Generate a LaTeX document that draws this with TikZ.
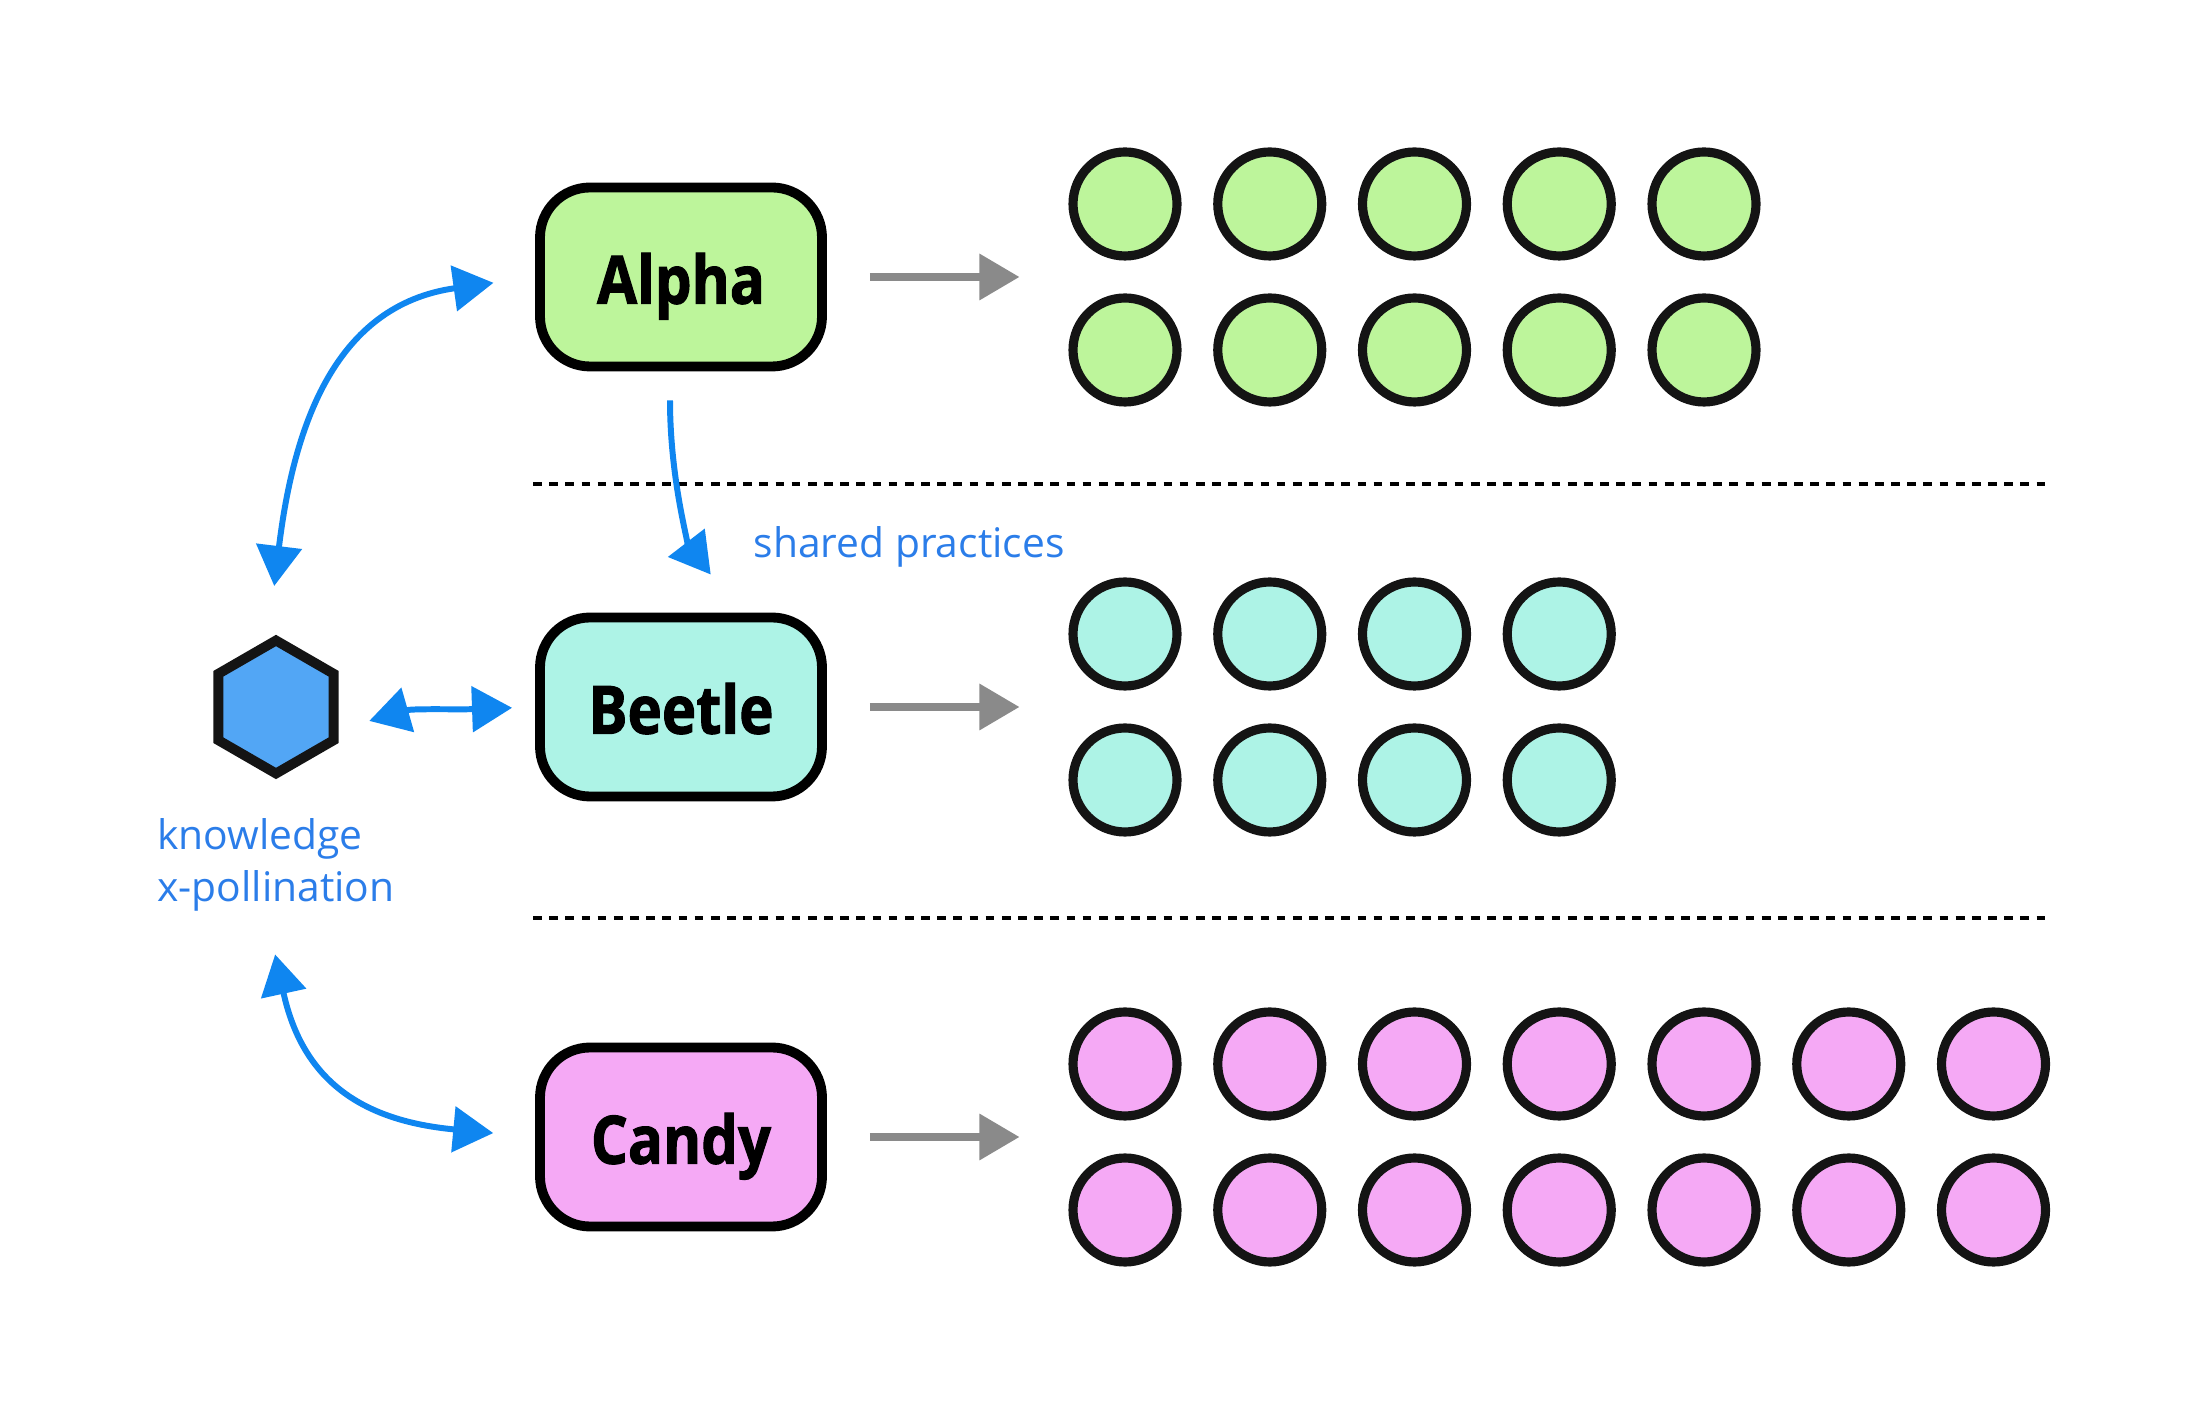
\documentclass[tikz,border=0pt]{standalone}
\usepackage{fontspec}
\setmainfont{Open Sans}
\newfontfamily\teamfont[FakeStretch=0.87,FakeBold=1.5]{Open Sans}
\usepackage{tikz}
\usetikzlibrary{positioning,arrows.meta,shapes.geometric}

\definecolor{teamgreen}{HTML}{BDF59B}
\definecolor{teamteal}{HTML}{ADF3E6}
\definecolor{teampink}{HTML}{F5A9F5}
\definecolor{hexblue}{HTML}{52A6F5}
\definecolor{linkblue}{HTML}{0F86F0}
\definecolor{textblue}{HTML}{2B7DE9}
\definecolor{feedgray}{HTML}{8A8A8A}
\definecolor{inkblack}{HTML}{141414}

\begin{document}
\begin{tikzpicture}[node distance={43mm},
    team/.style = {draw=black, line width=2.8pt, rounded corners=5mm, minimum width=28.2mm, minimum height=17.9mm, text height=15.2pt, text depth=0pt, font=\teamfont\bfseries\fontsize{19}{22}\selectfont},
    member/.style = {draw=inkblack, circle, line width=2.6pt, minimum size=10.4mm, inner sep=0pt},
    hub/.style = {draw=inkblack, fill=hexblue, regular polygon, regular polygon sides=6, shape border rotate=30, line width=2.8pt, minimum size=13.3mm, inner sep=0pt},
    link/.style = {linkblue, line width=1.7pt, {Triangle[length=11.4pt,width=12.8pt]}-{Triangle[length=11.4pt,width=12.8pt]}},
    feed/.style = {feedgray, line width=2pt, -{Triangle[length=11.4pt,width=12.8pt]}, shorten <=4.3mm, shorten >=4.9mm},
    note/.style = {textblue, font=\fontsize{11.6}{15}\selectfont, inner sep=0pt},
    divider/.style = {line width=1.15pt, dash pattern=on 2.5pt off 2.1pt}]
    \useasboundingbox (0,0) rectangle (22,14);

    \node[team, fill=teamgreen] (t_a) at (6.81,11.23) {Alpha};
    \node[team, fill=teamteal] (t_b) [below of=t_a] {Beetle};
    \node[team, fill=teampink] (t_c) [below of=t_b] {Candy};

    \node[hub] (hub) [left of=t_b, node distance=40.5mm] {};
    \node[note, align=left] (know) [below of=hub, node distance=15.8mm] {knowledge\\x-pollination};
    \node[note, anchor=west] (shared) at (7.53,8.53) {shared practices};

    % members of each team
    \foreach \i in {1,...,5} {
        \node[member, fill=teamgreen] (a_up\i) at ({11.25+1.4475*(\i-1)},11.96) {};
        \node[member, fill=teamgreen] (a_lo\i) at ({11.25+1.4475*(\i-1)},10.50) {};
    }
    \foreach \i in {1,...,4} {
        \node[member, fill=teamteal] (b_up\i) at ({11.25+1.4475*(\i-1)},7.66) {};
        \node[member, fill=teamteal] (b_lo\i) at ({11.25+1.4475*(\i-1)},6.20) {};
    }
    \foreach \i in {1,...,7} {
        \node[member, fill=teampink] (c_up\i) at ({11.25+1.4475*(\i-1)},3.36) {};
        \node[member, fill=teampink] (c_lo\i) at ({11.25+1.4475*(\i-1)},1.90) {};
    }

    \draw[divider] (5.33,9.16) -- (20.51,9.16);
    \draw[divider] (5.33,4.82) -- (20.51,4.82);

    \draw[feed] (t_a.east) -- (t_a.east -| a_lo1.west);
    \draw[feed] (t_b.east) -- (t_b.east -| b_lo1.west);
    \draw[feed] (t_c.east) -- (t_c.east -| c_lo1.west);

    \draw[link, shorten <=5.4mm, shorten >=4.2mm] (hub.97) .. controls +(0.26,2.14) and +(-2.0,-0.28) .. (t_a.west);
    \draw[link, shorten <=3.2mm, shorten >=2.3mm] (hub.-20) to[out=16, in=182] (t_b.west);
    \draw[link, shorten <=4.3mm, shorten >=4.2mm] ([xshift=-1mm]know.south) .. controls +(0.37,-1.7) and +(-1.71,0.16) .. (t_c.west);
    \draw[linkblue, line width=1.7pt, -{Triangle[length=11.4pt,width=12.8pt]}, shorten <=2.9mm, shorten >=4.8mm] ([xshift=-1.1mm]t_a.south) .. controls +(0,-1.1) and +(-0.5,0.65) .. ([xshift=5.9mm]t_b.north);
\end{tikzpicture}
\end{document}
